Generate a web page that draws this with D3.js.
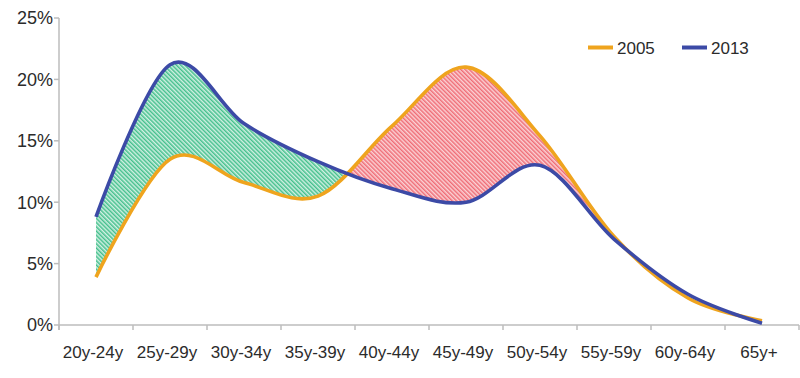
<!DOCTYPE html>
<html><head><meta charset="utf-8">
<script src="https://cdn.jsdelivr.net/npm/d3@7"></script>
<style>
html,body{margin:0;padding:0;background:#fff;}
svg{display:block;font-family:"Liberation Sans",Arial,Helvetica,sans-serif;}
</style></head>
<body>
<svg id="chart" width="800" height="378"></svg>
<script>
const categories = ["20y-24y","25y-29y","30y-34y","35y-39y","40y-44y","45y-49y","50y-54y","55y-59y","60y-64y","65y+"];
const values2005 = [3.9, 13.5, 11.6, 10.5, 16.2, 21.0, 15.4, 7.2, 2.2, 0.35];
const values2013 = [8.8, 21.2, 16.4, 13.3, 11.1, 10.0, 13.0, 7.0, 2.5, 0.15];
const yTicks = [0, 5, 10, 15, 20, 25];
const seriesNames = ["2005", "2013"];

(function () {
const colors = {"2005": "#EFA41E", "2013": "#3C4AA6"};
const svg = d3.select("#chart");
const pLeft = 59, pRight = 799, pTop = 18, pBottom = 325;

const x = d3.scaleBand().domain(categories).range([pLeft, pRight]).padding(0);
const y = d3.scaleLinear().domain([0, 25]).range([pBottom, pTop]);
const cx = c => x(c) + x.bandwidth() / 2;

const defs = svg.append("defs");
function hatch(id, c1, c2) {
  const p = defs.append("pattern").attr("id", id).attr("patternUnits", "userSpaceOnUse")
    .attr("width", 3).attr("height", 3).attr("patternTransform", "rotate(-45)");
  p.append("rect").attr("width", 3).attr("height", 3).attr("fill", c2);
  p.append("rect").attr("width", 1.5).attr("height", 3).attr("fill", c1);
}
hatch("hG", "#45c08d", "#d2f0e3");
hatch("hR", "#ef6d77", "#fbd3d6");

const curve = d3.curveCardinal.tension(0);
const d05 = categories.map((c, i) => ({c, v: values2005[i]}));
const d13 = categories.map((c, i) => ({c, v: values2013[i]}));

const above = d3.area().x(d => cx(d.c)).y0(0).y1(d => y(d.v)).curve(curve);
const below = d3.area().x(d => cx(d.c)).y0(378).y1(d => y(d.v)).curve(curve);
const line = d3.line().x(d => cx(d.c)).y(d => y(d.v)).curve(curve);

const xEnd = cx("55y-59y");
const cpB13 = defs.append("clipPath").attr("id", "below13");
cpB13.append("path").attr("d", below(d13));
const cpB05 = defs.append("clipPath").attr("id", "below05");
cpB05.append("path").attr("d", below(d05));
const cpX = defs.append("clipPath").attr("id", "xr");
cpX.append("rect").attr("x", cx(categories[0])).attr("y", 0).attr("width", xEnd - cx(categories[0])).attr("height", 378);

const gG = svg.append("g").attr("clip-path", "url(#xr)");
gG.append("g").attr("clip-path", "url(#below13)")
  .append("path").attr("d", above(d05)).attr("fill", "url(#hG)");
const gR = svg.append("g").attr("clip-path", "url(#xr)");
gR.append("g").attr("clip-path", "url(#below05)")
  .append("path").attr("d", above(d13)).attr("fill", "url(#hR)");

const axisColor = "#bdbdbd";
const xa = svg.append("g");
xa.append("line").attr("x1", pLeft).attr("x2", pRight).attr("y1", pBottom).attr("y2", pBottom)
  .attr("stroke", axisColor).attr("stroke-width", 1.5);
const bounds = categories.map(c => x(c)).concat([pRight]);
xa.selectAll("line.t").data(bounds).join("line").attr("class", "t")
  .attr("x1", d => d).attr("x2", d => d).attr("y1", pBottom).attr("y2", pBottom + 5)
  .attr("stroke", axisColor).attr("stroke-width", 1.5);
xa.selectAll("text").data(categories).join("text")
  .attr("x", d => cx(d) - 3).attr("y", 358).attr("text-anchor", "middle")
  .attr("font-size", 17).attr("fill", "#2b2b2b").text(d => d);

const ya = svg.append("g");
ya.append("line").attr("x1", pLeft).attr("x2", pLeft).attr("y1", y(25)).attr("y2", pBottom + 5)
  .attr("stroke", axisColor).attr("stroke-width", 1.5);
ya.selectAll("line.t").data(yTicks).join("line").attr("class", "t")
  .attr("x1", pLeft - 5).attr("x2", pLeft).attr("y1", d => y(d)).attr("y2", d => y(d))
  .attr("stroke", axisColor).attr("stroke-width", 1.5);
ya.selectAll("text").data(yTicks).join("text")
  .attr("x", 53).attr("y", d => y(d)).attr("dy", "0.35em").attr("text-anchor", "end")
  .attr("font-size", 18).attr("fill", "#2b2b2b").text(d => d + "%");

svg.append("path").attr("d", line(d05)).attr("fill", "none")
  .attr("stroke", colors["2005"]).attr("stroke-width", 3.6).attr("stroke-linejoin", "round");
svg.append("path").attr("d", line(d13)).attr("fill", "none")
  .attr("stroke", colors["2013"]).attr("stroke-width", 3.6).attr("stroke-linejoin", "round");

const legX = [588, 682];
seriesNames.forEach((s, i) => {
  const g = svg.append("g");
  g.append("line").attr("x1", legX[i]).attr("x2", legX[i] + 25).attr("y1", 47.5).attr("y2", 47.5)
    .attr("stroke", colors[s]).attr("stroke-width", 4);
  g.append("text").attr("x", legX[i] + 29).attr("y", 53.5).attr("font-size", 17)
    .attr("fill", "#2b2b2b").text(s);
});
})();
</script>
</body></html>
